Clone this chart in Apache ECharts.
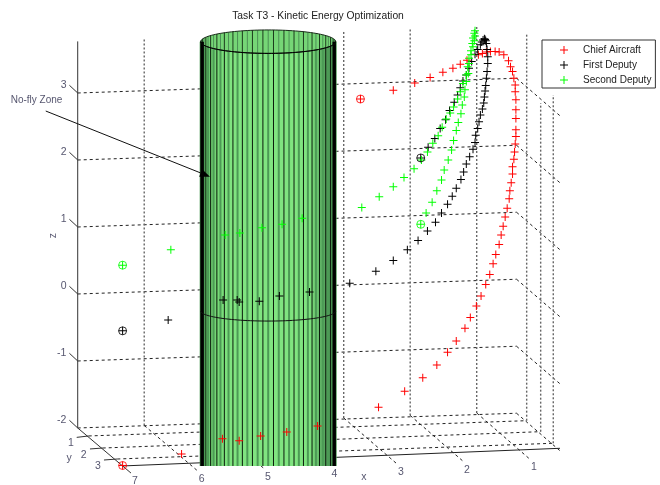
<!DOCTYPE html>
<html>
<head>
<meta charset="utf-8">
<script src="https://cdn.jsdelivr.net/npm/echarts@6/dist/echarts.min.js"></script>
<style>html,body{margin:0;padding:0;background:#fff}#c{width:660px;height:485px}</style>
</head>
<body>
<div id="c"></div>
<script>
// Values are read in the picture plane of the 3D view: apparent x and apparent z.
const chiefX = [7.17,6.29,5.68,5.43,5.11,4.72,4.26,3.35,2.96,2.69,2.48,2.32,2.19,2.06,1.98,1.89,1.82,1.75,1.69,1.64,1.60,1.55,1.52,1.49,1.46,1.43,1.40,1.39,1.37,1.35,1.35,1.33,1.32,1.31,1.30,1.30,1.30,1.30,1.30,1.31,1.31,1.33,1.35,1.38,1.41,1.48,1.55,1.61,1.68,1.74,1.80,1.86,2.03,2.13,2.24,2.39,2.58,2.81,3.13,3.62];
const chiefZ = [-2.56,-2.39,-2.16,-2.19,-2.12,-2.06,-1.97,-1.69,-1.45,-1.25,-1.06,-0.87,-0.70,-0.51,-0.35,-0.18,-0.03,0.14,0.29,0.45,0.59,0.74,0.88,1.01,1.15,1.28,1.42,1.54,1.66,1.79,1.90,2.01,2.12,2.24,2.35,2.45,2.62,2.75,2.90,3.02,3.12,3.22,3.32,3.39,3.48,3.57,3.61,3.62,3.62,3.61,3.59,3.57,3.49,3.43,3.37,3.31,3.23,3.15,3.04,2.91];
const firstX = [7.17,6.49,5.67,5.46,5.43,5.13,4.83,4.38,3.78,3.39,3.13,2.92,2.76,2.62,2.50,2.41,2.32,2.25,2.19,2.12,2.08,2.04,1.99,1.94,1.91,1.90,1.87,1.85,1.83,1.80,1.78,1.77,1.76,1.75,1.74,1.73,1.72,1.72,1.73,1.74,1.75,1.76,1.77,1.79,1.81,1.83,1.87,1.91,1.96,2.00,2.04,2.09,2.13,2.17,2.22,2.29,2.35,2.43,2.51,2.61,2.72];
const firstZ = [-0.55,-0.39,-0.09,-0.09,-0.12,-0.11,-0.03,0.03,0.16,0.34,0.50,0.66,0.80,0.94,1.07,1.21,1.34,1.46,1.58,1.71,1.82,1.94,2.05,2.16,2.26,2.37,2.47,2.57,2.67,2.76,2.85,2.94,3.03,3.11,3.22,3.32,3.44,3.54,3.65,3.74,3.78,3.80,3.81,3.79,3.76,3.72,3.65,3.58,3.47,3.37,3.27,3.18,3.08,2.97,2.86,2.74,2.60,2.47,2.32,2.19,2.03];
const secondX = [7.17,6.45,5.64,5.42,5.09,4.79,4.49,3.60,3.34,3.13,2.97,2.82,2.71,2.62,2.54,2.46,2.40,2.34,2.28,2.23,2.17,2.13,2.09,2.04,2.02,2.00,1.97,1.95,1.94,1.92,1.91,1.91,1.92,1.94,1.97,2.00,2.01,2.04,2.06,2.07,2.10,2.12,2.16,2.19,2.23,2.26,2.31,2.37,2.41,2.48,2.55,2.64,2.72];
const secondZ = [0.43,0.66,0.88,0.91,0.99,1.04,1.13,1.29,1.45,1.60,1.74,1.87,2.00,2.12,2.25,2.36,2.49,2.61,2.70,2.79,2.91,3.02,3.14,3.27,3.39,3.52,3.63,3.74,3.82,3.89,3.93,3.85,3.78,3.69,3.57,3.44,3.29,3.17,3.05,2.94,2.82,2.69,2.56,2.44,2.29,2.15,2.00,1.85,1.70,1.54,1.37,1.21,1.04];

const seriesNames = ['Chief Aircraft','First Deputy','Second Deputy'];
const seriesColors = ['#ff0000','#000000','#00ff00'];
const xTicks = [1,2,3,4,5,6,7];
const yTicks = [1,2,3];
const zTicks = [-2,-1,0,1,2,3];
const titleText = 'Task T3 - Kinetic Energy Optimization';
const zoneText = 'No-fly Zone';

const PLUS = 'path://M0 3.5H8V4.5H0ZM3.5 0H4.5V8H3.5Z';
const zip = (a, b) => a.map((v, i) => [v, b[i]]);
const chief = zip(chiefX, chiefZ), first = zip(firstX, firstZ), second = zip(secondX, secondZ);

// ---- the 3D box, as seen in the picture plane
const segs = [];
const dashH = {stroke:'#222', lineWidth:1, lineDash:[3,3]};
const dashV = {stroke:'#666', lineWidth:1.4, lineDash:[2,2]};
const solid = {stroke:'#333', lineWidth:1};
zTicks.forEach(k => {
  segs.push([[7.84,k],[1.29,k+0.22],dashH]);
  segs.push([[1.29,k+0.22],[0.642,k-0.34],dashH]);
  segs.push([[7.964,k+0.115],[7.84,k],solid]);
});
xTicks.forEach(x => {
  const bx = 1.885+(x-1)*0.9925, zb = -1.776-(x-1)*0.0373, zt = 3.985-(x-1)*0.0358;
  if (x < 7) segs.push([[bx,zb],[bx,zt],dashV]);
  const ex = 1.09+(x-1)*0.9925, ez = -2.467-(x-1)*0.0343;
  segs.push([[bx,zb],[ex,ez],x===7?solid:dashH]);
});
segs.push([[7.84,-2],[7.84,3.77],solid]);
[[1.139,-1.891,3.88],[0.930,-2.055,2.85],[0.742,-2.228,2.97]].forEach(v => segs.push([[v[0],v[1]],[v[0],v[2]],dashV]));
[[7.855,-2.14,7.676,-2.119,1.139,-1.891],[7.657,-2.313,7.467,-2.299,0.930,-2.055],[7.448,-2.478,7.249,-2.463,0.742,-2.228]].forEach(v => {
  segs.push([[v[0],v[1]],[v[2],v[3]],solid]);
  segs.push([[v[2],v[3]],[v[4],v[5]],dashH]);
});
segs.push([[7.179,-2.567],[0.642,-2.303],{stroke:'#222',lineWidth:1}]);

function renderBox(params, api) {
  return {type:'group', children: segs.map(s => {
    const a = api.coord(s[0]), b = api.coord(s[1]);
    return {type:'line', silent:true, shape:{x1:a[0],y1:a[1],x2:b[0],y2:b[1]}, style:s[2]};
  })};
}

// ---- the cylinder (no-fly zone)
const CX = 4.997, R = 1.0075, TOP = 3.766, B = 0.175, BOT = -2.567, HOOP = -0.254, HB = 0.15;
function renderCyl(params, api) {
  const ch = [];
  const P = (x,z) => api.coord([x,z]);
  const arc = (zc, b, from, to) => { const r = []; for (let d = from; d <= to; d += 3) { const t = d*Math.PI/180; r.push(P(CX+R*Math.cos(t), zc-b*Math.sin(t))); } return r; };
  const body = arc(TOP,B,0,180).concat([P(CX-R,BOT),P(CX+R,BOT)]);
  ch.push({type:'polygon', silent:true, shape:{points:body}, style:{fill:{type:'linear',x:0,y:0,x2:1,y2:0,colorStops:[{offset:0,color:'#5fb866'},{offset:0.12,color:'#76d876'},{offset:0.22,color:'#80e480'},{offset:0.8,color:'#80e480'},{offset:1,color:'#3c7a48'}]}}});
  const top = arc(TOP,B,0,360);
  ch.push({type:'polygon', silent:true, shape:{points:top}, style:{fill:'#76d676'}});
  const vline = (x,z1,z2,col,w) => { const a = P(x,z1), b = P(x,z2); ch.push({type:'line', silent:true, shape:{x1:a[0],y1:a[1],x2:b[0],y2:b[1]}, style:{stroke:col,lineWidth:w}}); };
  for (let k = 0; k <= 20; k++) {
    const t = k*9*Math.PI/180, x = CX+R*Math.cos(t), s = Math.sin(t);
    vline(x, TOP-B*s, BOT, '#4c9a55', 2);
    vline(x, TOP+B*s, TOP-B*s, '#4c8f55', 1);
  }
  for (let k = 0; k < 20; k++) {
    const t = (k+0.5)*9*Math.PI/180, x = CX+R*Math.cos(t), s = Math.sin(t);
    vline(x, TOP-B*s, BOT, '#0a1a0a', 1);
    vline(x, TOP+B*s, TOP-B*s, '#1c3a1c', 1);
  }
  vline(CX-R+0.024, TOP, BOT, '#000', 3.2);
  vline(CX+R-0.024, TOP, BOT, '#000', 3.2);
  ch.push({type:'polygon', silent:true, shape:{points:top}, style:{fill:'none',stroke:'#1a2a1a',lineWidth:1}});
  ch.push({type:'polyline', silent:true, shape:{points:arc(TOP,B,0,180)}, style:{fill:'none',stroke:'#000',lineWidth:1}});
  ch.push({type:'polyline', silent:true, shape:{points:arc(HOOP,HB,0,180)}, style:{fill:'none',stroke:'#111',lineWidth:1}});
  return {type:'group', children:ch};
}

// ---- annotation arrow
const arrowFrom = [8.317,2.731], arrowTo = [5.866,1.751];
function renderArrow(params, api) {
  const a = api.coord(arrowFrom), b = api.coord(arrowTo);
  const ang = Math.atan2(b[1]-a[1], b[0]-a[0]), L = 10, W = 4;
  const bx = b[0]-L*Math.cos(ang), by = b[1]-L*Math.sin(ang);
  return {type:'group', children:[
    {type:'line', silent:true, shape:{x1:a[0],y1:a[1],x2:bx,y2:by}, style:{stroke:'#111',lineWidth:1}},
    {type:'polygon', silent:true, shape:{points:[b,[bx-W*Math.sin(ang),by+W*Math.cos(ang)],[bx+W*Math.sin(ang),by-W*Math.cos(ang)]]}, style:{fill:'#000'}}
  ]};
}

// ---- text on the axes
const xLabelPos = [[1,1.03,-2.58],[2,2.03,-2.627],[3,3.015,-2.652],[4,4.01,-2.691],[5,5.0,-2.727],[6,5.99,-2.757],[7,6.985,-2.791]];
const texts = [];
xLabelPos.forEach(v => texts.push({value:[v[1],v[2]], name:String(v[0])}));
yTicks.forEach((y,i) => texts.push({value:[[7.94,7.75,7.54][i],[-2.23,-2.40,-2.57][i]], name:String(y)}));
zTicks.forEach(k => texts.push({value:[8.05-(k<0?-0.03:0),k+0.125], name:String(k)}));
texts.push({value:[3.57,-2.74], name:'x'});
texts.push({value:[7.97,-2.45], name:'y'});
texts.push({value:[8.455,2.896], name:zoneText, label:{fontSize:10}});

const ends = (arr, col) => ({
  type:'scatter', silent:true, z:6, symbol:'circle', symbolSize:8,
  itemStyle:{color:'none', borderColor:col, borderWidth:1},
  data:[arr[0], arr[arr.length-1]]
});
const track = (i, arr) => ({
  type:'scatter', name:seriesNames[i], z:5, symbol:PLUS, symbolSize:8, silent:true,
  itemStyle:{color:seriesColors[i], opacity:1}, data:arr
});

const chart = echarts.init(document.getElementById('c'), null, {renderer:'canvas'});
chart.setOption({
  animation:false,
  backgroundColor:'#fff',
  title:{text:titleText, left:313, top:6, textAlign:'center', textStyle:{fontFamily:'Liberation Sans', fontSize:10.3, fontWeight:'normal', color:'#222'}},
  legend:{data:seriesNames, orient:'vertical', left:542, top:40, padding:[4,4,2,18], itemWidth:28, itemHeight:8, itemGap:3, icon:PLUS,
    backgroundColor:'#fff', borderColor:'#333', borderWidth:1, selectedMode:false,
    textStyle:{fontFamily:'Liberation Sans', fontSize:10, color:'#222', lineHeight:12}, z:20},
  grid:{left:0,right:0,top:0,bottom:0},
  xAxis:{type:'value', min:-0.851, max:9, inverse:true, show:false},
  yAxis:{type:'value', min:-2.851, max:4.388, show:false},
  series:[
    {type:'custom', z:1, silent:true, clip:false, renderItem:renderBox, data:[[0,0]]},
    {type:'custom', z:2, silent:true, clip:false, renderItem:renderCyl, data:[[0,0]]},
    track(0,chief), track(1,first), track(2,second),
    ends(chief,'#ff0000'), ends(first,'#000000'), ends(second,'#00ff00'),
    {type:'custom', z:7, silent:true, clip:false, renderItem:renderArrow, data:[[0,0]]},
    {type:'scatter', z:8, silent:true, symbolSize:0, data:texts.concat([]),
      label:{show:true, position:'inside', formatter:p=>p.name, fontFamily:'Liberation Sans', fontSize:10.5, color:'#2a2a4a'}},
    {type:'scatter', z:8, silent:true, symbolSize:0, data:[{value:[8.2,0.87], name:'z'}],
      label:{show:true, position:'inside', rotate:90, formatter:p=>p.name, fontFamily:'Liberation Sans', fontSize:10.5, color:'#2a2a4a'}}
  ]
});
</script>
</body>
</html>
